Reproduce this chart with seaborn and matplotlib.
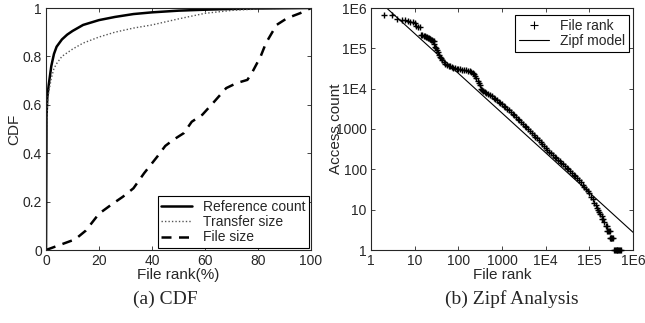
import numpy as np
import pandas as pd
import seaborn as sns
import matplotlib.pyplot as plt
import matplotlib.ticker as mtick
from matplotlib.lines import Line2D

# CDF panel data (file rank in %)
ref_rank = [0, 0.2, 0.5, 1, 2, 3, 4, 6, 8, 10, 14, 20, 26, 33, 40, 50, 60, 70, 80, 90, 100]
ref_cdf = [0, 0.55, 0.63, 0.68, 0.76, 0.81, 0.84, 0.87, 0.89, 0.905, 0.93, 0.95, 0.963,
           0.975, 0.982, 0.989, 0.993, 0.996, 0.998, 0.999, 1.0]
transfer_cdf = [0, 0.5, 0.6, 0.65, 0.71, 0.75, 0.77, 0.8, 0.815, 0.83, 0.855, 0.88, 0.9,
                0.917, 0.93, 0.955, 0.978, 0.99, 0.996, 0.999, 1.0]
size_rank = [0, 5, 11, 15, 20, 25, 29, 33, 37, 42, 45, 48, 52, 55, 59, 63, 68, 72, 76, 78,
             81, 83, 87, 91, 96, 100]
size_cdf = [0, 0.02, 0.044, 0.08, 0.15, 0.19, 0.22, 0.255, 0.317, 0.386, 0.43, 0.455, 0.483,
            0.53, 0.559, 0.607, 0.669, 0.69, 0.703, 0.738, 0.8, 0.855, 0.93, 0.958, 0.979, 1.0]

# Zipf panel data
file_rank = [2, 3, 4, 5, 6, 7, 8, 9, 10, 11, 12, 13,
             14, 15, 16, 17, 18, 19, 20, 21, 22, 23, 24, 25, 26, 27,
             28, 29, 30, 32, 34, 36, 38, 40, 43, 46, 50, 55, 60, 65, 70, 77, 85, 93,
             100, 110, 120, 135, 150, 165, 185, 200, 215, 230, 245, 260, 275, 290, 310,
             330, 350, 370, 400, 440, 480, 530, 580, 640, 700, 770, 840, 920,
             1000, 1100, 1200, 1300, 1450, 1600, 1750, 1900, 2100, 2300, 2500, 2750,
             3000, 3300, 3600, 4000, 4400, 4800, 5300, 5800, 6400, 7000, 7700, 8400, 9200,
             1.0e4, 1.1e4, 1.2e4, 1.3e4, 1.45e4, 1.6e4, 1.75e4, 1.9e4, 2.1e4, 2.3e4, 2.5e4,
             2.75e4, 3.0e4, 3.3e4, 3.6e4, 4.0e4, 4.4e4, 4.8e4, 5.3e4, 5.8e4, 6.4e4, 7.0e4,
             7.7e4, 8.4e4, 9.2e4, 1.0e5, 1.1e5, 1.2e5, 1.3e5, 1.4e5, 1.5e5, 1.6e5, 1.7e5,
             1.8e5, 1.9e5, 2.0e5, 2.1e5, 2.2e5, 2.35e5, 2.5e5, 2.6e5, 2.7e5, 2.8e5, 2.9e5,
             3.0e5, 3.1e5, 3.2e5, 3.3e5, 3.4e5, 3.6e5, 3.8e5, 4.0e5, 4.2e5, 4.4e5, 4.6e5,
             4.8e5, 5.0e5, 5.2e5]
access_count = [6.6e5, 6.6e5, 5.2e5, 5.0e5, 4.9e5, 4.7e5, 4.6e5, 4.4e5, 4.3e5, 3.6e5, 3.4e5, 3.3e5,
                2.2e5, 2.1e5, 2.05e5, 2.0e5, 1.95e5, 1.9e5, 1.85e5, 1.8e5, 1.75e5, 1.7e5, 1.65e5,
                1.6e5, 1.55e5, 1.5e5,
                1.25e5, 1.1e5, 1.0e5, 9.0e4, 8.0e4, 7.0e4, 6.2e4, 5.6e4, 5.0e4, 4.6e4, 4.2e4,
                3.9e4, 3.75e4, 3.6e4, 3.45e4, 3.3e4, 3.2e4, 3.1e4,
                3.05e4, 3.0e4, 2.95e4, 2.9e4, 2.85e4, 2.82e4, 2.75e4, 2.6e4, 2.45e4, 2.3e4,
                2.1e4, 1.8e4, 1.55e4, 1.35e4, 1.2e4,
                1.0e4, 9.2e3, 8.7e3, 8.3e3, 7.8e3, 7.3e3, 6.8e3, 6.4e3, 5.9e3, 5.5e3, 5.1e3,
                4.8e3, 4.5e3,
                4.2e3, 3.8e3, 3.5e3, 3.2e3, 2.9e3, 2.6e3, 2.4e3, 2.2e3, 2.0e3, 1.8e3, 1.65e3,
                1.5e3, 1.35e3, 1.2e3, 1.1e3, 990, 880, 800, 720, 650, 590, 530, 470, 420, 370,
                330, 300, 275, 255, 230, 208, 190, 175, 158, 144, 132,
                120, 110, 100, 91, 82, 74, 67, 60, 54, 48, 42,
                37, 32, 29, 26, 21, 18, 15, 13, 11, 10, 9,
                8, 7, 6, 6, 5, 4, 4, 3, 3, 3, 3,
                2, 2, 2, 2, 2, 1, 1, 1, 1, 1, 1,
                1, 1, 1]
zipf_rank = [1, 1e6]
zipf_count = [2.25e6, 2.75]

sns.set_style('ticks')
plt.rcParams['font.family'] = ['Liberation Sans', 'DejaVu Sans']
plt.rcParams['font.size'] = 10
plt.rcParams['xtick.direction'] = 'in'
plt.rcParams['ytick.direction'] = 'in'

fig = plt.figure(figsize=(6.45, 3.23), dpi=100)
ax1 = fig.add_axes([46/645, 73/323, 265/645, 242/323])
ax2 = fig.add_axes([371/645, 73/323, 262/645, 242/323])

# (a) CDF
sns.lineplot(x=ref_rank, y=ref_cdf, ax=ax1, color='k', lw=1.8, estimator=None, sort=False)
sns.lineplot(x=ref_rank, y=transfer_cdf, ax=ax1, color='#555555', lw=1.0, ls=(0, (1, 1.5)),
             estimator=None, sort=False)
sns.lineplot(x=size_rank, y=size_cdf, ax=ax1, color='k', lw=1.8, ls=(0, (4, 3)),
             estimator=None, sort=False)
ax1.set_xlim(0, 100)
ax1.set_ylim(0, 1)
ax1.set_xticks([0, 20, 40, 60, 80, 100])
ax1.set_yticks([0, 0.2, 0.4, 0.6, 0.8, 1])
ax1.yaxis.set_major_formatter(mtick.FuncFormatter(lambda v, p: '%g' % v))
ax1.set_xlabel('File rank(%)', labelpad=0, fontsize=11)
ax1.set_ylabel('CDF', labelpad=1, fontsize=11)
handles = [Line2D([], [], color='k', lw=1.8),
           Line2D([], [], color='#555555', lw=1.0, ls=(0, (1, 1.5))),
           Line2D([], [], color='k', lw=1.8, ls=(0, (4, 3)))]
leg = ax1.legend(handles, ['Reference count', 'Transfer size', 'File size'],
                 loc='lower right', borderaxespad=0.15, fancybox=False, framealpha=1,
                 edgecolor='k', handlelength=2.2, labelspacing=0.1, borderpad=0.25,
                 fontsize=10)
leg.get_frame().set_linewidth(0.8)

# (b) Zipf analysis
sns.scatterplot(x=file_rank, y=access_count, ax=ax2, marker='+', color='k', s=22,
                linewidth=1.0, zorder=3, clip_on=False)
sns.lineplot(x=zipf_rank, y=zipf_count, ax=ax2, color='k', lw=0.8, estimator=None)
ax2.set_xscale('log')
ax2.set_yscale('log')
ax2.set_xlim(1, 1e6)
ax2.set_ylim(1, 1e6)
labels = ['1', '10', '100', '1000', '1E4', '1E5', '1E6']
ax2.set_xticks([1, 10, 100, 1000, 1e4, 1e5, 1e6])
ax2.set_xticklabels(labels)
ax2.set_yticks([1, 10, 100, 1000, 1e4, 1e5, 1e6])
ax2.set_yticklabels(labels)
ax2.minorticks_off()
ax2.set_xlabel('File rank', labelpad=0, fontsize=11)
ax2.set_ylabel('Access count', labelpad=-5, fontsize=11)
handles2 = [Line2D([], [], color='k', marker='+', ls='', ms=6, mew=0.8),
            Line2D([], [], color='k', lw=0.8)]
leg2 = ax2.legend(handles2, ['File rank', 'Zipf model'], loc='upper right',
                  bbox_to_anchor=(0.985, 0.97), borderaxespad=0, fancybox=False,
                  framealpha=1, edgecolor='k', handlelength=2.2, labelspacing=0.1,
                  borderpad=0.25, fontsize=10)
leg2.get_frame().set_linewidth(0.8)

for ax in (ax1, ax2):
    for s in ax.spines.values():
        s.set_linewidth(0.8)
        s.set_visible(True)
    ax.tick_params(top=True, right=True, length=3, width=0.6, pad=3, labelsize=10)

fig.text(165/645, 1 - 299/323, '(a) CDF', family=['Liberation Serif', 'DejaVu Serif'],
         fontsize=14, ha='center', va='center')
fig.text(512/645, 1 - 299/323, '(b) Zipf Analysis', family=['Liberation Serif', 'DejaVu Serif'],
         fontsize=14, ha='center', va='center')

fig.savefig('out.png', dpi=100)
